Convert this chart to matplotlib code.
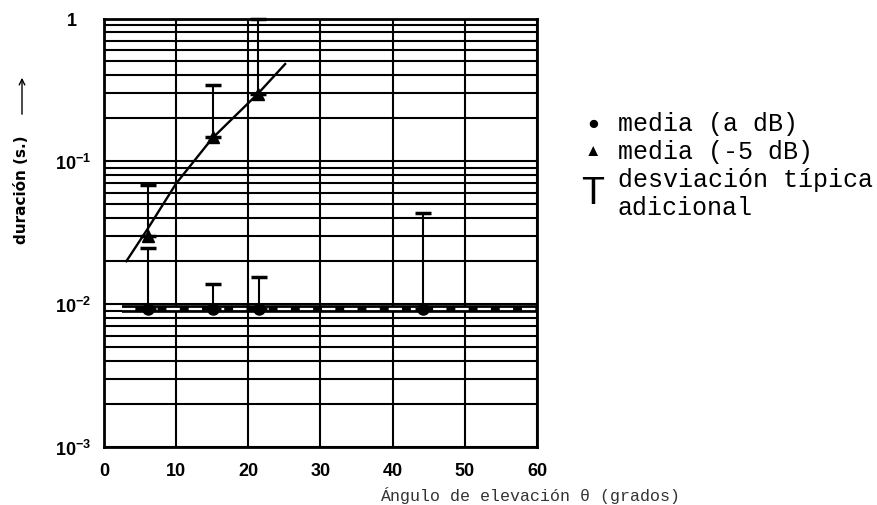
import numpy as np
import matplotlib.pyplot as plt
from matplotlib.ticker import FixedLocator, LogLocator, NullFormatter
from matplotlib.transforms import ScaledTranslation
from matplotlib.patches import FancyArrowPatch

# Data
ang_media = [6.1, 15.1, 21.5, 44.2]
dur_media = [0.0093, 0.0093, 0.0093, 0.0093]
sup_media = [0.0247, 0.0138, 0.0156, 0.0437]   # top of the "T"

ang_m5 = [6.1, 15.1, 21.4]
dur_m5 = [0.030, 0.147, 0.296]
sup_m5 = [0.068, 0.342, 1.0]

curva_x = [3.1, 6.1, 10.0, 15.0, 21.4, 25.1]
curva_y = [0.020, 0.034, 0.070, 0.145, 0.30, 0.48]

ref_x = [2.5, 60]
ref_y = [0.0093, 0.0093]

xticks = [0, 10, 20, 30, 40, 50, 60]
yticks = [1e-3, 1e-2, 1e-1, 1]
ylabels = [r'$\mathbf{10^{-3}}$', r'$\mathbf{10^{-2}}$', r'$\mathbf{10^{-1}}$',
           r'$\mathbf{1}$']

plt.rcParams['font.family'] = ['Liberation Sans', 'DejaVu Sans']
plt.rcParams['mathtext.fontset'] = 'custom'
plt.rcParams['mathtext.bf'] = 'Liberation Sans:bold'
plt.rcParams['mathtext.rm'] = 'Liberation Sans'

W, H = 878, 506
fig = plt.figure(figsize=(W / 100, H / 100), dpi=100)
ax = fig.add_axes([104 / W, 1 - 448 / H, 433 / W, 428.5 / H])

ax.set_yscale('log')
ax.set_xlim(0, 60)
ax.set_ylim(1e-3, 1)

# grid: every 10 degrees, and every log subdivision
ax.xaxis.set_major_locator(FixedLocator(xticks))
ax.yaxis.set_major_locator(FixedLocator(yticks))
ax.yaxis.set_minor_locator(LogLocator(base=10, subs=np.arange(2, 10)))
ax.yaxis.set_minor_formatter(NullFormatter())
ax.grid(True, which='both', axis='y', color='black', lw=1.5)
ax.grid(True, which='major', axis='x', color='black', lw=1.5)
ax.set_axisbelow(True)
ax.tick_params(which='both', length=0)
ax.tick_params(axis='x', pad=11)
ax.tick_params(axis='y', pad=9)
ax.set_xticklabels([str(t) for t in xticks], fontsize=13, fontweight='bold')
ax.set_yticklabels(ylabels, fontsize=13)
# the "1" sits further left, above the "10" of the other labels
uno = ax.get_yticklabels()[-1]
uno.set_transform(uno.get_transform() + ScaledTranslation(-0.14, 0, fig.dpi_scale_trans))
for s in ax.spines.values():
    s.set_linewidth(2)

# reference level: thick black band with white dashes
ax.plot(ref_x, ref_y, color='black', lw=5.5, solid_capstyle='butt', zorder=3)
ax.plot(ref_x, ref_y, color='white', lw=1.6, dashes=(6, 4), zorder=3)

# fitted curve
ax.plot(curva_x, curva_y, color='black', lw=1.7, zorder=4)

# error bars (upper only)
ax.errorbar(ang_media, dur_media,
            yerr=[np.zeros(4), np.array(sup_media) - np.array(dur_media)],
            fmt='o', color='black', ms=8, elinewidth=1.5, capsize=6,
            capthick=2.5, zorder=5)
eb = ax.errorbar(ang_m5, dur_m5,
                 yerr=[np.zeros(3), np.array(sup_m5) - np.array(dur_m5)],
                 fmt='^', color='black', ms=9, elinewidth=1.5, capsize=6,
                 capthick=2.5, zorder=5)
for art in eb.lines[1] + eb.lines[2]:
    art.set_clip_on(False)

# legend drawn as text, like the original
mono = 'Liberation Mono'
fig.text(593 / W, 1 - 124 / H, '●', fontsize=14, ha='center', va='center')
fig.text(593 / W, 1 - 152 / H, '▲', fontsize=12, ha='center', va='center')
fig.text(593 / W, 1 - 194 / H, 'T', fontsize=27, ha='center', va='center')
fig.text(618 / W, 1 - 124 / H, 'media (a dB)', family=mono, fontsize=18, va='center')
fig.text(618 / W, 1 - 152 / H, 'media (-5 dB)', family=mono, fontsize=18, va='center')
fig.text(618 / W, 1 - 180 / H, 'desviación típica', family=mono, fontsize=18, va='center')
fig.text(618 / W, 1 - 208 / H, 'adicional', family=mono, fontsize=18, va='center')

# axis titles
fig.text(22 / W, 1 - 190 / H, 'duración (s.)', rotation=90, fontsize=11,
         fontweight='bold', ha='center', va='center', family=['DejaVu Sans'])
fig.patches.append(FancyArrowPatch(
    (22 / W, 1 - 118 / H), (22 / W, 1 - 76 / H), transform=fig.transFigure,
    arrowstyle='->', mutation_scale=10, lw=1.0, color='black'))
fig.text(380 / W, 1 - 496 / H, 'Ángulo de elevación θ (grados)', fontsize=12,
         va='center', color='#333333', family=[mono, 'DejaVu Sans'])

fig.savefig('out.png', dpi=100)
